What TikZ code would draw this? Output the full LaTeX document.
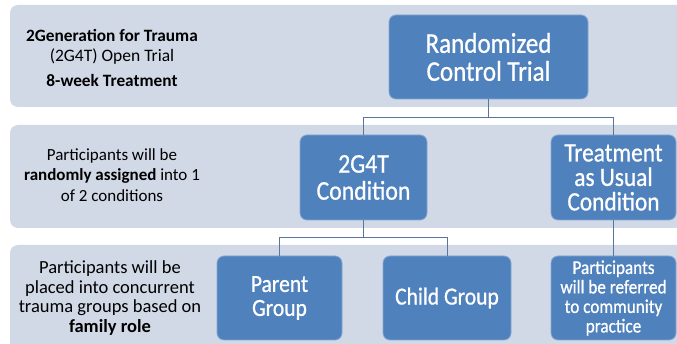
\documentclass[tikz,border=0pt]{standalone}
\usepackage{fontspec}
\setmainfont{Carlito}
\newfontfamily\boxfont[FakeStretch=0.88,FakeBold=0.8]{Carlito}
\newfontfamily\sidefont{Carlito}
\definecolor{bandfill}{RGB}{209,216,230}
\definecolor{boxblue}{RGB}{79,129,189}
\definecolor{connblue}{RGB}{88,118,156}
\tikzset{
  band/.style={fill=bandfill, draw=none, rounded corners=8pt},
  bluebox/.style={fill=boxblue, draw=white!30!boxblue, line width=0.8pt, rounded corners=7pt,
    text=white, align=center, inner sep=0pt},
  sidetext/.style={align=center, inner sep=0pt, text=black},
  conn/.style={draw=connblue, line width=0.9pt},
}
\begin{document}
\begin{tikzpicture}[x=1pt, y=-1pt]
\useasboundingbox (0,0) rectangle (677,344);
\clip (0,0) rectangle (677,344);
\fill[white] (0,0) rectangle (677,344);
% bands
\path[band] (10,5) rectangle (700,107);
\path[band] (10,125) rectangle (700,228);
\path[band] (10,245) rectangle (700,370);
% side texts
\node[sidetext, font=\sidefont\fontsize{17.3}{20}\selectfont] (t1) at (112,57.5)
  {\textbf{2Generation for Trauma}\\\fontsize{17.5}{20}\selectfont(2G4T) Open Trial\\[5pt]\textbf{8-week Treatment}};
\node[sidetext, font=\sidefont\fontsize{17}{20.5}\selectfont] (t2) at (112,175)
  {Participants will be\\\textbf{randomly assigned} into 1\\of 2 conditions};
\node[sidetext, font=\sidefont\fontsize{18.5}{19.5}\selectfont] (t3) at (110,298)
  {Participants will be\\placed into concurrent\\trauma groups based on\\\textbf{family role}};
% boxes
\node[bluebox, minimum width=199pt, minimum height=84pt, font=\boxfont\fontsize{28.5}{28}\selectfont] (rct) at (488.5,57)
  {Randomized\\Control Trial};
\node[bluebox, minimum width=127pt, minimum height=85pt, font=\boxfont\fontsize{27}{27}\selectfont] (g4t) at (363.5,177.5)
  {2G4T\\Condition};
\node[bluebox, minimum width=125pt, minimum height=85pt, font=\boxfont\fontsize{26.5}{24.5}\selectfont] (tau) at (613.5,177.5)
  {Treatment\\as Usual\\Condition};
\node[bluebox, minimum width=125pt, minimum height=84pt, font=\boxfont\fontsize{24.5}{24}\selectfont] (par) at (279.5,298)
  {Parent\\Group};
\node[bluebox, minimum width=128pt, minimum height=84pt, font=\boxfont\fontsize{24.5}{24}\selectfont] (chi) at (447,298)
  {Child Group};
\node[bluebox, minimum width=125pt, minimum height=84pt, font=\boxfont\fontsize{19.5}{19.5}\selectfont] (ref) at (613.5,298)
  {Participants\\will be referred\\to community\\practice};
% connectors
\draw[conn] (rct.south) -- ++(0,18) -| (g4t.north);
\draw[conn] (rct.south) -- ++(0,18) -| (tau.north);
\draw[conn] (g4t.south) -- ++(0,17) -| (par.north);
\draw[conn] (g4t.south) -- ++(0,17) -| (chi.north);
\draw[conn] (tau.south) -- (ref.north);
\end{tikzpicture}
\end{document}
